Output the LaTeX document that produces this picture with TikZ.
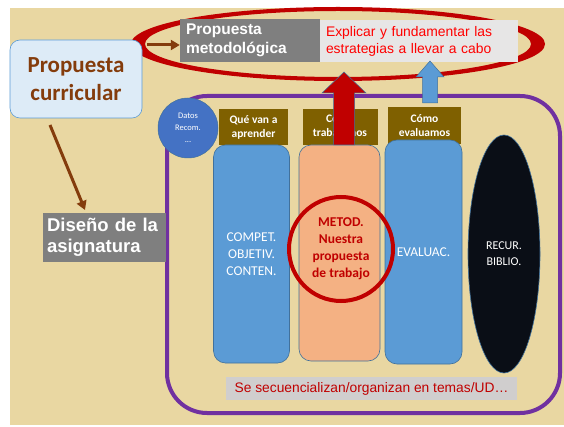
\documentclass[tikz,border=0pt]{standalone}
\usepackage{fontspec}
\usepackage{tikz}
\usetikzlibrary{shapes,arrows.meta,positioning,calc}
\newfontfamily\calibri{Carlito}
\newfontfamily\arialf{Liberation Sans}
\definecolor{papyrus}{RGB}{233,215,162}
\definecolor{curricfill}{RGB}{221,235,247}
\definecolor{curricline}{RGB}{91,155,213}
\definecolor{brownink}{RGB}{132,60,12}
\definecolor{ringred}{RGB}{192,0,0}
\definecolor{metgray}{RGB}{127,127,127}
\definecolor{explgray}{RGB}{231,230,230}
\definecolor{brightred}{RGB}{255,0,0}
\definecolor{framepurple}{RGB}{112,48,160}
\definecolor{datosblue}{RGB}{68,114,196}
\definecolor{headbrown}{RGB}{127,96,0}
\definecolor{colblue}{RGB}{91,155,213}
\definecolor{colorange}{RGB}{244,177,131}
\definecolor{recurblack}{RGB}{10,14,22}
\definecolor{bottomgray}{RGB}{208,206,206}
\definecolor{edgeblue}{RGB}{65,113,156}

\begin{document}
\begin{tikzpicture}[x=1pt, y=-1pt,
    hdr/.style={fill=headbrown, text=white, inner sep=0pt, minimum height=36pt,
        align=center, font=\calibri\bfseries\fontsize{11.5}{14}\selectfont},
    colbox/.style={draw=edgeblue, line width=0.6pt, rounded corners=12pt, inner sep=0pt,
        align=center, text=white, font=\calibri\fontsize{13.5}{17}\selectfont},
    graybox/.style={fill=metgray, text=white, inner sep=0pt, align=left,
        font=\arialf\bfseries},
    brownarrow/.style={draw=brownink, line width=3pt, -{Triangle[length=9pt,width=10pt]}}]
    \useasboundingbox (0,0) rectangle (564,427);

    % Papyrus background
    \fill[papyrus] (10,8) rectangle (564,425);

    % Frame round the subject
    \draw[framepurple, line width=4pt, rounded corners=40pt] (167,96) rectangle (560,413);

    % Red ring round the methodology
    \fill[ringred, even odd rule] (338,44) ellipse [x radius=207, y radius=37]
        (338,44) ellipse [x radius=193, y radius=33];

    % Boxes on the left
    \node[draw=curricline, line width=0.6pt, fill=curricfill, rounded corners=10pt,
        minimum width=132pt, minimum height=78pt, inner sep=0pt, align=center,
        text=brownink, font=\calibri\bfseries\fontsize{23}{28}\selectfont]
        (curric) at (76,79) {Propuesta\\curricular};
    \node[graybox, minimum width=123pt, minimum height=49pt, text width=115pt,
        font=\arialf\bfseries\fontsize{18.5}{21}\selectfont]
        (diseno) at (104.5,237.5) {Diseño de la\\asignatura};

    % Inside the ring
    \node[graybox, minimum width=140pt, minimum height=43pt, text width=128pt,
        font=\arialf\bfseries\fontsize{15.5}{19}\selectfont]
        (metod) at (250,40.5) {Propuesta\\metodológica};
    \node[fill=explgray, minimum width=198pt, minimum height=42pt, inner sep=0pt,
        text width=186pt, align=left, text=brightred,
        font=\arialf\fontsize{13.9}{17}\selectfont]
        (explic) at (419,41) {Explicar y fundamentar las\\estrategias a llevar a cabo};

    % Brown arrows
    \coordinate (ringleft) at (147,45);
    \coordinate (curricfoot) at (50,125);
    \coordinate (disenotop) at (85,210);
    \draw[brownarrow] (ringleft) -- (metod.west |- ringleft);
    \draw[brownarrow] (curricfoot) -- (disenotop);

    % Headers
    \node[hdr, minimum width=69pt] (quevan) at (253.5,127) {Qué van a\\aprender};
    \node[hdr, minimum width=75pt] (comotrab) at (340,127) {Cómo\\trabajamos};
    \node[hdr, minimum width=73pt, minimum height=37pt] (comoeval) at (424.5,125.5) {Cómo\\evaluamos};

    % Columns
    \node[colbox, fill=colblue, minimum width=76pt, minimum height=218pt]
        (compet) at (251.5,254) {COMPET.\\OBJETIV.\\CONTEN.};
    \node[colbox, fill=colorange, minimum width=81pt, minimum height=216pt]
        (metcol) at (339.5,253) {};
    \node[colbox, fill=colblue, minimum width=77pt, minimum height=224pt]
        (evalu) at (423.5,252) {EVALUAC.};
    \node[ellipse, draw=edgeblue, line width=0.6pt, fill=recurblack, minimum width=72pt,
        minimum height=238pt, inner sep=0pt, align=center, text=white,
        font=\calibri\fontsize{12}{16}\selectfont]
        (recur) at (504,254) {RECUR.\\BIBLIO.};

    % Datos circle
    \node[circle, draw=edgeblue, line width=0.5pt, fill=datosblue, minimum size=60pt,
        inner sep=0pt, align=center, text=white, font=\calibri\fontsize{8.5}{12}\selectfont]
        (datos) at (188,128) {Datos\\Recom.\\...};

    % Red circle on the method column
    \node[circle, draw=ringred, line width=4pt, minimum size=104pt, inner sep=0pt,
        align=center, text=ringred, font=\calibri\bfseries\fontsize{13.5}{17}\selectfont]
        (nuestra) at (341,249) {METOD.\\Nuestra\\propuesta\\de trabajo};

    % Block arrows up to the ring
    \fill[ringred, draw=edgeblue, line width=0.5pt] (333.5,145) -- (333.5,93) -- (322,93)
        -- (344,72) -- (366,93) -- (354.5,93) -- (354.5,145) -- cycle;
    \fill[colblue, draw=edgeblue, line width=0.5pt] (422.5,103) -- (422.5,77) -- (416,77)
        -- (430,61) -- (444,77) -- (437.5,77) -- (437.5,103) -- cycle;

    % Bottom note
    \node[fill=bottomgray, minimum width=291pt, minimum height=23pt, inner sep=0pt,
        text=ringred, font=\arialf\fontsize{13.8}{16}\selectfont]
        (secuen) at (371.5,388.5) {Se secuencializan/organizan en temas/UD…};

\end{tikzpicture}
\end{document}
